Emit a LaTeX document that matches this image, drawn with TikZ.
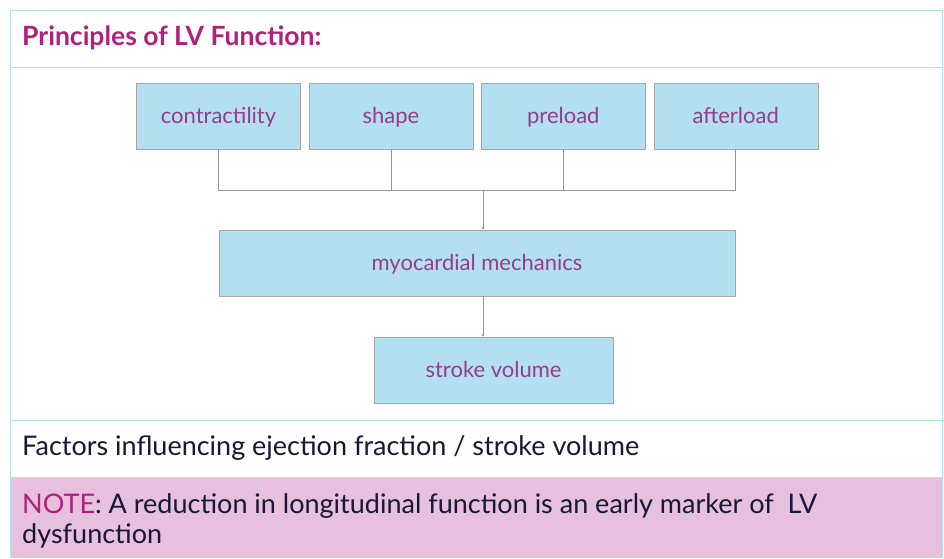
\documentclass[tikz,border=0pt]{standalone}
\usepackage{fontspec}
\setmainfont{Lato}
\definecolor{lvb}   {RGB}{178, 224, 240}
\definecolor{lvrule}{RGB}{182, 226, 238}
\definecolor{lvmag} {RGB}{176, 32, 124}
\definecolor{lvtxt} {RGB}{150, 60, 140}
\definecolor{lvnavy}{RGB}{22, 24, 54}
\definecolor{lvpink}{RGB}{230, 192, 220}
\definecolor{lvgrey}{RGB}{150, 150, 150}
\usetikzlibrary{arrows.meta, positioning}

\begin{document}
\begin{tikzpicture}[x=1pt, y=-1pt,
		factor/.style={draw=black!35, fill=lvb, minimum width=164pt, minimum height=66pt,
			inner sep=0pt, text height=15pt, text depth=0pt,
			font=\fontsize{22}{24}\selectfont, text=lvtxt},
		link/.style={draw=lvgrey, line width=0.8pt},
		flow/.style={link, -{Stealth[length=3pt, width=3pt]}},
		rowtext/.style={anchor=west, inner sep=0pt, text=lvnavy, font=\fontsize{27}{30}\selectfont},
		node distance=8pt,
		]
		\useasboundingbox (0,0) rectangle (944,558);
		% table frame
		\fill[lvpink] (10,477) rectangle (942,558);
		\draw[lvrule, line width=1pt] (10,558) -- (10,10) -- (942,10) -- (942,558)
		(10,67) -- (942,67) (10,420) -- (942,420) (10,477) -- (942,477);
		\node[rowtext, text=lvmag, font=\fontsize{26.5}{30}\selectfont\bfseries] (title) at (22,38) {Principles of LV Function:};
		\node[rowtext] (caption) at (22,448) {Factors influencing ejection fraction / stroke volume};
		\node[rowtext, anchor=north west, align=left] (note) at (22,493)
		{\textcolor{lvmag}{NOTE}: A reduction in longitudinal function is an early marker of~~LV\\dysfunction};
		% diagram
		\node[factor] (con) at (218.5,116) {contractility};
		\node[factor, right=of con] (shp) {shape};
		\node[factor, right=of shp] (pre) {preload};
		\node[factor, right=of pre] (aft) {afterload};
		\node[factor, minimum width=516pt] (myo) at (477,263) {myocardial mechanics};
		\node[factor, minimum width=239pt] (sv) at (493.5,370) {stroke volume};
		\coordinate (join) at (483,190);
		\draw[link] (con.south) |- (aft.south |- join) -- (aft.south);
		\foreach \n in {shp, pre}
		\draw[link] (\n.south) -- (\n.south |- join);
		\draw[flow] (join) -- (join |- myo.north);
		\draw[flow] (join |- myo.south) -- (join |- sv.north);
\end{tikzpicture}
\end{document}
